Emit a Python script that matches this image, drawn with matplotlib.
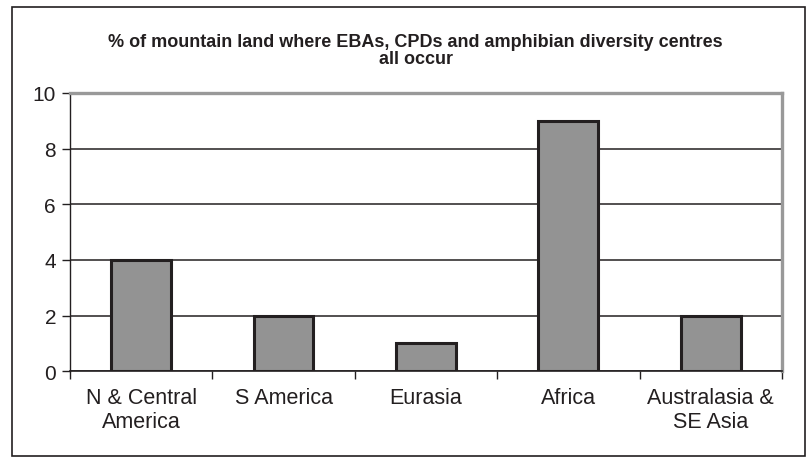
import matplotlib
matplotlib.use("Agg")
import matplotlib.pyplot as plt
from matplotlib.patches import Rectangle

regions = ["N & Central\nAmerica", "S America", "Eurasia", "Africa", "Australasia &\nSE Asia"]
pct_land = [4, 2, 1, 9, 2]
yticks = [0, 2, 4, 6, 8, 10]

plt.rcParams['font.family'] = ['Liberation Sans', 'DejaVu Sans']

fig = plt.figure(figsize=(8.07, 4.6), dpi=100)
ax = fig.add_axes([0.0867, 0.1907, 0.8823, 0.605])

xs = list(range(len(regions)))
ax.bar(xs, pct_land, width=0.42, color="#939393", edgecolor="#231f20", linewidth=2.2, zorder=3)

ax.set_xlim(-0.5, len(regions) - 0.5)
ax.set_ylim(0, 10)
ax.set_yticks(yticks)
ax.set_yticklabels([str(t) for t in yticks], fontsize=15, color="#231f20")
ax.yaxis.grid(True, color="#231f20", linewidth=1.1, zorder=0)
ax.set_axisbelow(True)

# category labels centred, tick marks on the boundaries between categories
ax.set_xticks(xs)
ax.set_xticklabels(regions, fontsize=15.5, color="#231f20", linespacing=1.2)
ax.tick_params(axis="x", which="major", length=0, pad=11)
ax.set_xticks([x - 0.5 for x in xs] + [len(regions) - 0.5], minor=True)
ax.tick_params(axis="x", which="minor", length=6, width=1, color="#231f20", direction="out")
ax.tick_params(axis="y", length=6, width=1, color="#231f20", pad=4)

for side in ("top", "right"):
    ax.spines[side].set_color("#999999")
    ax.spines[side].set_linewidth(2.4)
ax.spines["left"].set_color("#231f20")
ax.spines["left"].set_linewidth(1)
ax.spines["bottom"].set_color("#231f20")
ax.spines["bottom"].set_linewidth(1.2)

fig.text(0.515, 0.889, "% of mountain land where EBAs, CPDs and amphibian diversity centres\nall occur",
         ha="center", va="center", fontsize=13, fontweight="bold", color="#231f20", linespacing=0.95)

# chart frame
fig.patches.append(Rectangle((0.015, 0.006), 0.982, 0.976, transform=fig.transFigure,
                             fill=False, edgecolor="#231f20", linewidth=1.2))

fig.savefig("out.png", dpi=100)
